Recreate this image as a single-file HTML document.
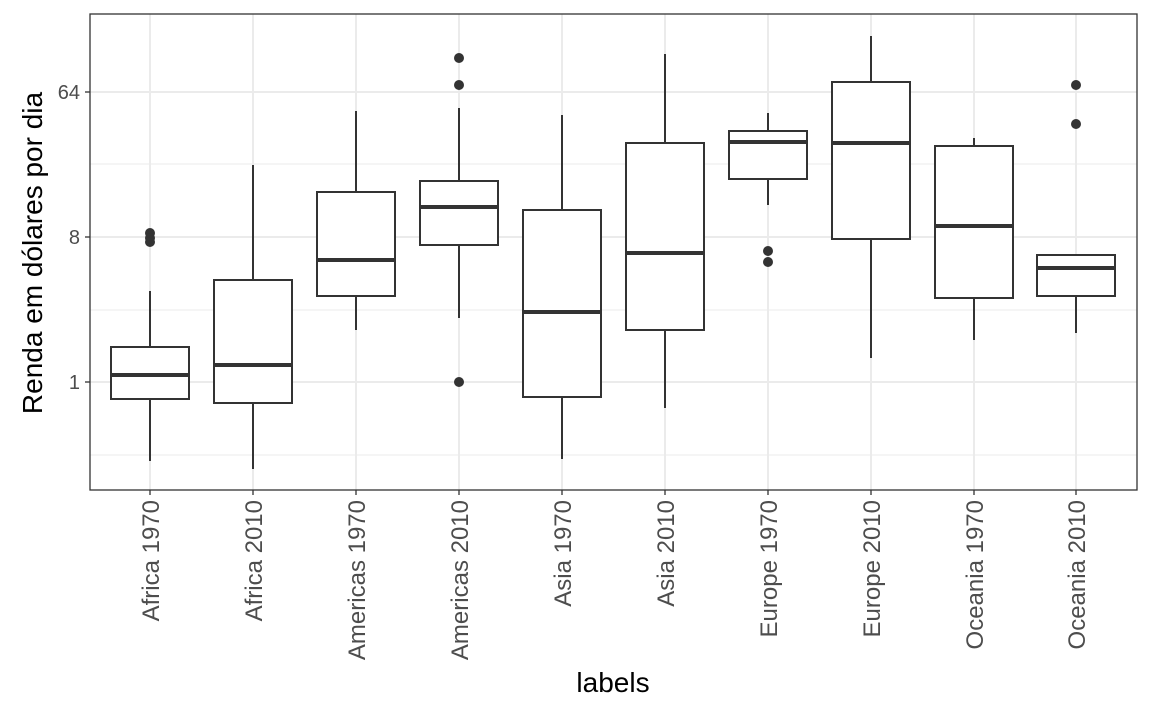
<!DOCTYPE html>
<html><head><style>body{margin:0;background:#fff}</style></head><body>
<svg width="1152" height="711" xmlns="http://www.w3.org/2000/svg" font-family="Liberation Sans, sans-serif">
<rect width="1152" height="711" fill="#fff"/>
<g stroke="#ebebeb" stroke-width="1">
<line x1="90" x2="1137" y1="164" y2="164"/><line x1="90" x2="1137" y1="310" y2="310"/><line x1="90" x2="1137" y1="455" y2="455"/>
</g>
<g stroke="#ebebeb" stroke-width="2">
<line x1="90" x2="1137" y1="92" y2="92"/><line x1="90" x2="1137" y1="237" y2="237"/><line x1="90" x2="1137" y1="382" y2="382"/>
<line x1="150" x2="150" y1="14" y2="490"/><line x1="253" x2="253" y1="14" y2="490"/><line x1="356" x2="356" y1="14" y2="490"/><line x1="459" x2="459" y1="14" y2="490"/><line x1="562" x2="562" y1="14" y2="490"/><line x1="665" x2="665" y1="14" y2="490"/><line x1="768" x2="768" y1="14" y2="490"/><line x1="871" x2="871" y1="14" y2="490"/><line x1="974" x2="974" y1="14" y2="490"/><line x1="1076" x2="1076" y1="14" y2="490"/>
</g>
<g stroke="#333" stroke-width="2" fill="#fff">
<line x1="150" x2="150" y1="291" y2="461"/><rect x="111" y="347" width="78" height="52"/><line x1="111" x2="189" y1="375" y2="375" stroke-width="4"/>
<line x1="253" x2="253" y1="165" y2="469"/><rect x="214" y="280" width="78" height="123"/><line x1="214" x2="292" y1="365" y2="365" stroke-width="4"/>
<line x1="356" x2="356" y1="111" y2="330"/><rect x="317" y="192" width="78" height="104"/><line x1="317" x2="395" y1="260" y2="260" stroke-width="4"/>
<line x1="459" x2="459" y1="108" y2="318"/><rect x="420" y="181" width="78" height="64"/><line x1="420" x2="498" y1="207" y2="207" stroke-width="4"/>
<line x1="562" x2="562" y1="115" y2="459"/><rect x="523" y="210" width="78" height="187"/><line x1="523" x2="601" y1="312" y2="312" stroke-width="4"/>
<line x1="665" x2="665" y1="54" y2="408"/><rect x="626" y="143" width="78" height="187"/><line x1="626" x2="704" y1="253" y2="253" stroke-width="4"/>
<line x1="768" x2="768" y1="113" y2="205"/><rect x="729" y="131" width="78" height="48"/><line x1="729" x2="807" y1="142" y2="142" stroke-width="4"/>
<line x1="871" x2="871" y1="36" y2="358"/><rect x="832" y="82" width="78" height="157"/><line x1="832" x2="910" y1="143" y2="143" stroke-width="4"/>
<line x1="974" x2="974" y1="138" y2="340"/><rect x="935" y="146" width="78" height="152"/><line x1="935" x2="1013" y1="226" y2="226" stroke-width="4"/>
<line x1="1076" x2="1076" y1="255" y2="333"/><rect x="1037" y="255" width="78" height="41"/><line x1="1037" x2="1115" y1="268" y2="268" stroke-width="4"/>
</g>
<g fill="#333">
<circle cx="150" cy="233" r="5"/><circle cx="150" cy="238" r="5"/><circle cx="150" cy="242" r="5"/>
<circle cx="459" cy="58" r="5"/><circle cx="459" cy="85" r="5"/><circle cx="459" cy="382" r="5"/>
<circle cx="768" cy="251" r="5"/><circle cx="768" cy="262" r="5"/>
<circle cx="1076" cy="85" r="5"/><circle cx="1076" cy="124" r="5"/>
</g>
<rect x="90" y="14" width="1047" height="476" fill="none" stroke="#333" stroke-width="1.3"/>
<g stroke="#333" stroke-width="1.3">
<line x1="85" x2="90" y1="92" y2="92"/><line x1="85" x2="90" y1="237" y2="237"/><line x1="85" x2="90" y1="382" y2="382"/>
<line x1="150" x2="150" y1="490" y2="495"/><line x1="253" x2="253" y1="490" y2="495"/><line x1="356" x2="356" y1="490" y2="495"/><line x1="459" x2="459" y1="490" y2="495"/><line x1="562" x2="562" y1="490" y2="495"/><line x1="665" x2="665" y1="490" y2="495"/><line x1="768" x2="768" y1="490" y2="495"/><line x1="871" x2="871" y1="490" y2="495"/><line x1="974" x2="974" y1="490" y2="495"/><line x1="1076" x2="1076" y1="490" y2="495"/>
</g>
<g font-size="20" fill="#4d4d4d" text-anchor="end">
<text x="80" y="99">64</text><text x="80" y="244">8</text><text x="80" y="389">1</text>
</g>
<g font-size="24" fill="#4d4d4d" text-anchor="end">
<text transform="translate(159,500) rotate(-90)">Africa 1970</text>
<text transform="translate(262,500) rotate(-90)">Africa 2010</text>
<text transform="translate(365,500) rotate(-90)">Americas 1970</text>
<text transform="translate(468,500) rotate(-90)">Americas 2010</text>
<text transform="translate(571,500) rotate(-90)">Asia 1970</text>
<text transform="translate(674,500) rotate(-90)">Asia 2010</text>
<text transform="translate(777,500) rotate(-90)">Europe 1970</text>
<text transform="translate(880,500) rotate(-90)">Europe 2010</text>
<text transform="translate(983,500) rotate(-90)">Oceania 1970</text>
<text transform="translate(1085,500) rotate(-90)">Oceania 2010</text>
</g>
<text x="613" y="692" font-size="28" text-anchor="middle">labels</text>
<text transform="translate(42,253) rotate(-90)" font-size="28" text-anchor="middle">Renda em dólares por dia</text>
</svg>
</body></html>
